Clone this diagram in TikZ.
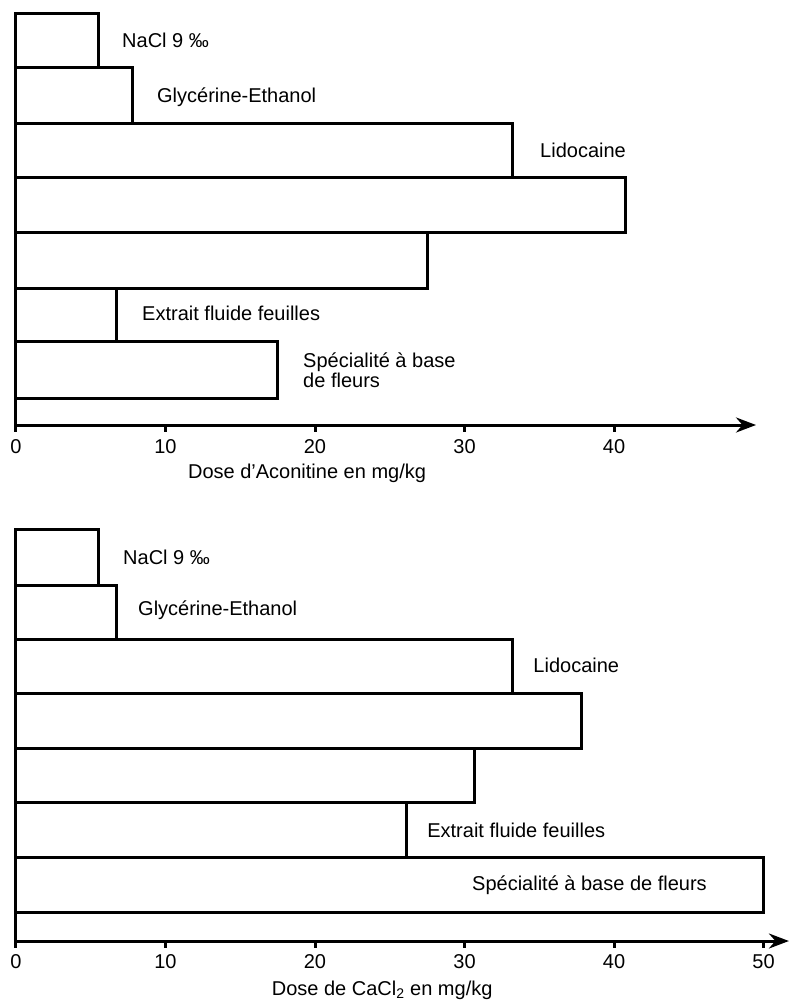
\documentclass[tikz,border=0pt]{standalone}
\usepackage{fontspec}
\setmainfont{Liberation Sans}
\usetikzlibrary{arrows.meta}
\begin{document}
\begin{tikzpicture}[x=14.95pt,y=-1pt,font=\fontsize{20}{20}\selectfont]
    \tikzset{barre/.style={draw, line width=3pt, line join=miter},
        axe/.style={line width=3pt},
        lbl/.style={anchor=west, inner sep=0pt},
        graduation/.style={inner sep=0pt}}

    \useasboundingbox (-1.07,0) rectangle (51.77,1000);

    \foreach \v/\a/\b in {5.5/14/68, 7.8/68/124, 33.2/124/178, 40.8/178/233, 27.5/233/288, 6.7/288/341, 17.5/341/398}
        \draw[barre] (0,\a) rectangle (\v,\b);

    \draw[axe] (0,14) -- (0,432);
    \draw[axe, -{Stealth[length=20pt,width=15pt]}] (0,425) -- (49.5,425);
    \foreach \t in {10,20,30,40}
        \draw[axe] (\t,425) -- (\t,432);
    \foreach \t in {0,10,20,30,40}
        \node[graduation] (gA\t) at (\t,447) {\t};

    \node[lbl] (naclA) at (7.09,40) {NaCl 9 ‰};
    \node[lbl] (glycA) at (9.43,97) {Glycérine-Ethanol};
    \node[lbl] (lidoA) at (35.05,150) {Lidocaine};
    \node[lbl] (extrA) at (8.43,313) {Extrait fluide feuilles};
    \node[lbl, align=left] (specA) at (19.2,370) {Spécialité à base\\de fleurs};
    \node[lbl] (titreA) at (11.5,473) {Dose d'Aconitine en mg/kg};

    \foreach \v/\a/\b in {5.5/529/585, 6.7/585/639, 33.2/639/693, 37.8/693/748, 30.7/748/802, 26.1/802/857, 50/857/912}
        \draw[barre] (0,\a) rectangle (\v,\b);

    \draw[axe] (0,529) -- (0,948);
    \draw[axe, -{Stealth[length=20pt,width=15pt]}] (0,941) -- (51.7,941);
    \foreach \t in {10,20,30,40,50}
        \draw[axe] (\t,941) -- (\t,948);
    \foreach \t in {0,10,20,30,40,50}
        \node[graduation] (gB\t) at (\t,962) {\t};

    \node[lbl] (naclB) at (7.16,557) {NaCl 9 ‰};
    \node[lbl] (glycB) at (8.16,610) {Glycérine-Ethanol};
    \node[lbl] (lidoB) at (34.6,665) {Lidocaine};
    \node[lbl] (extrB) at (27.5,830) {Extrait fluide feuilles};
    \node[lbl] (specB) at (30.5,885) {Spécialité à base de fleurs};
    \node[lbl] (titreB) at (17.1,990) {Dose de CaCl\textsubscript{2} en mg/kg};
\end{tikzpicture}
\end{document}
